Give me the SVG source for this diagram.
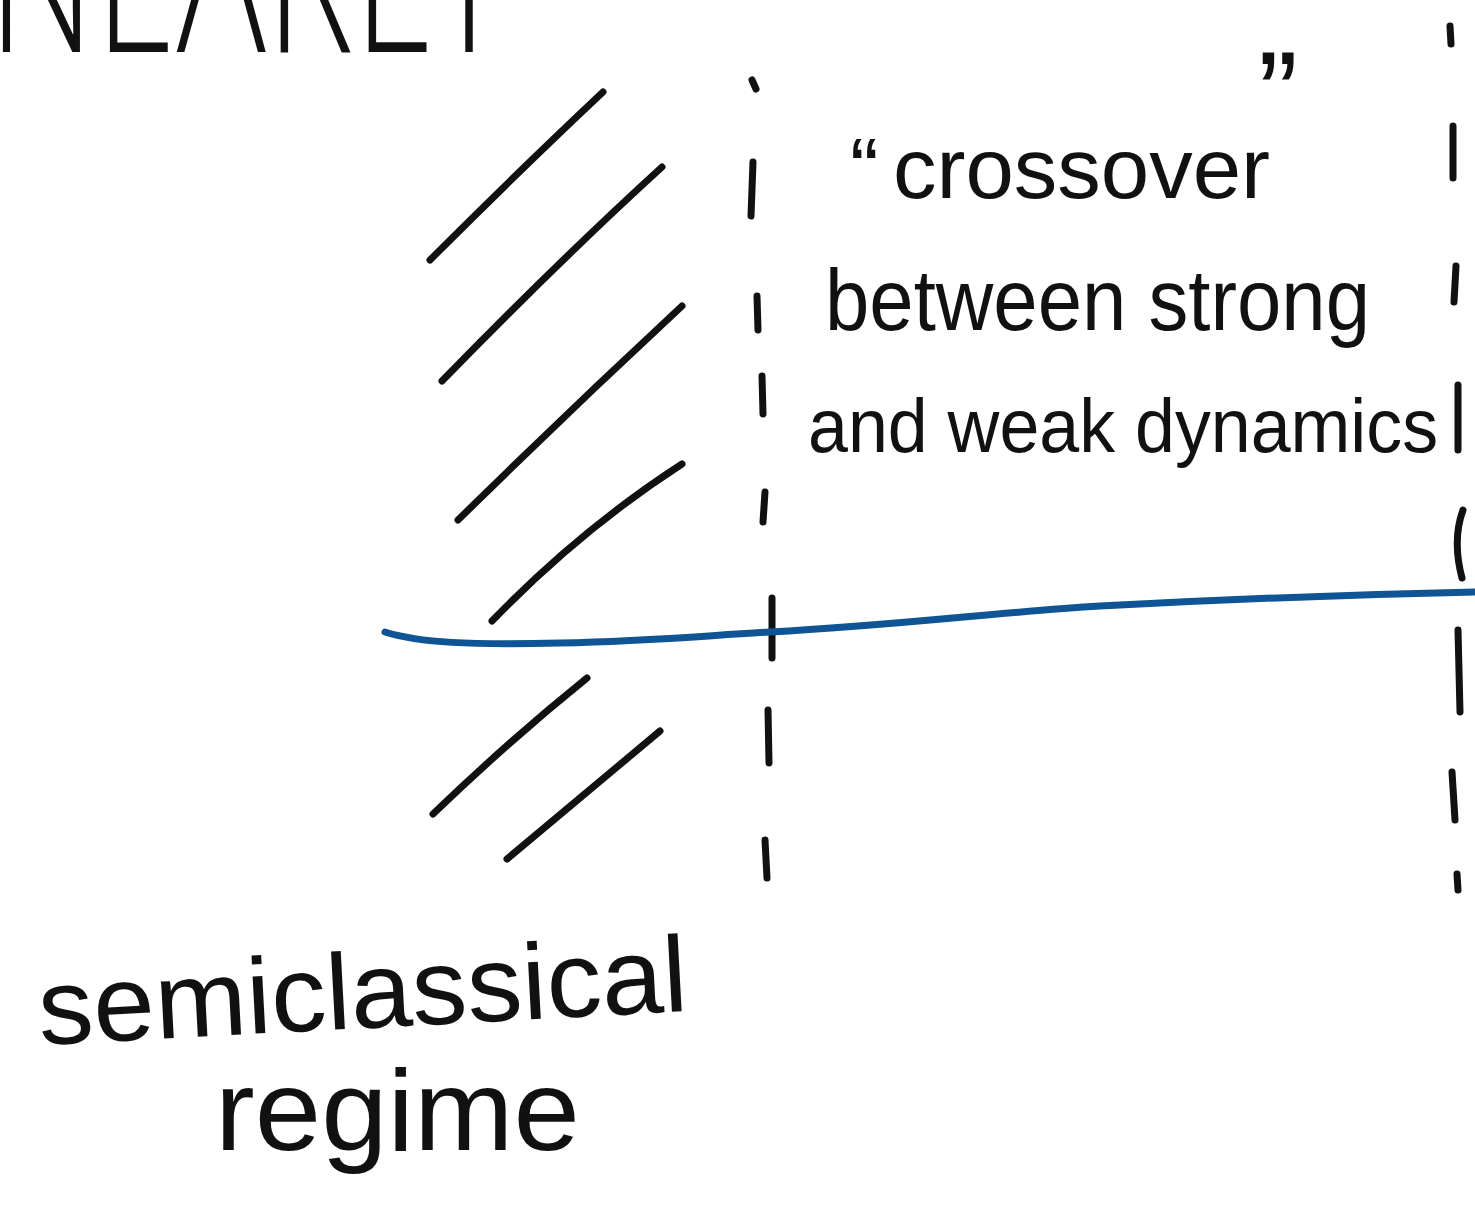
<svg xmlns="http://www.w3.org/2000/svg" width="1475" height="1224" viewBox="0 0 1475 1224">
<style>
.ink{fill:none;stroke:#111;stroke-width:7;stroke-linecap:round;stroke-linejoin:round}
.blue{fill:none;stroke:#0f5494;stroke-width:7;stroke-linecap:round}
.t{font-family:"Liberation Sans","DejaVu Sans",sans-serif;fill:#111}
.top{font-family:"Open Sans","Inter","Liberation Sans",sans-serif;font-weight:300;fill:#111}
</style>
<rect width="1475" height="1224" fill="#fff"/>
<text class="top" x="-12" y="52" font-size="210" textLength="520" lengthAdjust="spacingAndGlyphs">NEARLY</text>
<g id="hatch">
<path class="ink" d="M430,260 Q520,170 603,92"/>
<path class="ink" d="M442,381 Q560,260 662,167"/>
<path class="ink" d="M458,520 Q570,410 682,306"/>
<path class="ink" d="M492,621 Q580,530 682,464"/>
<path class="ink" d="M433,814 Q510,740 587,678"/>
<path class="ink" d="M507,859 Q590,790 660,731"/>
</g>
<g id="dashed-left">
<path class="ink" d="M752,80 L756,89 M753,162 L751,216 M757,296 L758,330 M762,376 L763,414 M765,492 L763,522 M772,598 L772,658 M768,710 L769,763 M765,840 L767,878"/>
</g>
<g id="dashed-right">
<path class="ink" d="M1450,26 L1451,44 M1453,126 L1453,178 M1456,266 L1454,302 M1458,385 L1458,450 M1463,510 Q1452,540 1462,578 M1458,630 L1460,712 M1452,772 L1455,820 M1457,874 L1458,890"/>
</g>
<g id="connectors">
<path id="curve" class="blue" d="M385,632 C420,643 470,645 560,643 C650,641 700,636 770,632 C900,625 1000,612 1100,606 C1250,598 1380,594 1475,592"/>
</g>
<g id="crossover-label">
<text class="t" font-size="86"><tspan x="850" y="198">“</tspan><tspan x="893" y="198" textLength="377" lengthAdjust="spacingAndGlyphs">crossover</tspan><tspan x="1258" y="136" font-size="120">”</tspan></text>
<text class="t" x="825" y="330" font-size="88" textLength="545" lengthAdjust="spacingAndGlyphs">between strong</text>
<text class="t" x="808" y="452" font-size="76" textLength="630" lengthAdjust="spacingAndGlyphs">and weak dynamics</text>
</g>
<g id="semiclassical-label">
<text class="t" x="40" y="1045" font-size="108" textLength="650" lengthAdjust="spacingAndGlyphs" transform="rotate(-3 40 1045)">semiclassical</text>
<text class="t" x="215" y="1150" font-size="115" textLength="365" lengthAdjust="spacingAndGlyphs">regime</text>
</g>
</svg>
